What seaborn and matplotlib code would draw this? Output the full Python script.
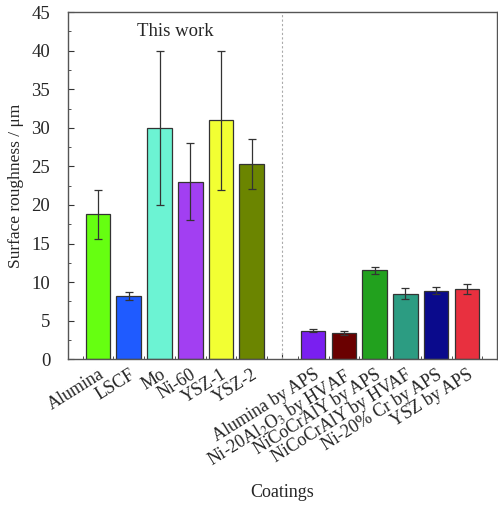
import numpy as np
import pandas as pd
import matplotlib
matplotlib.use("Agg")
import matplotlib.pyplot as plt
import seaborn as sns
from matplotlib.ticker import MultipleLocator

# Coatings from this work and from literature
this_work = ["Alumina", "LSCF", "Mo", "Ni-60", "YSZ-1", "YSZ-2"]
literature = ["Alumina by APS", r"Ni-20Al$_2$O$_3$ by HVAF", "NiCoCrAlY by APS",
              "NiCoCrAlY by HVAF", "Ni-20% Cr by APS", "YSZ by APS"]

this_work_ra = [18.8, 8.2, 30.0, 23.0, 31.0, 25.3]
this_work_err = [3.2, 0.5, 10.0, 5.0, 9.0, 3.2]
literature_ra = [3.7, 3.4, 11.5, 8.5, 8.9, 9.1]
literature_err = [0.2, 0.3, 0.5, 0.7, 0.4, 0.6]

this_work_colors = ["#66ff11", "#1f5bff", "#6cf3d3", "#a23ff2", "#f2ff33", "#6b8500"]
literature_colors = ["#7a1ff0", "#6a0000", "#22a11e", "#2c9c82", "#0a0a8c", "#e8303f"]

categories = this_work + literature
values = this_work_ra + literature_ra
errors = this_work_err + literature_err
colors = this_work_colors + literature_colors

gap = " "
order = this_work + [gap] + literature

df = pd.DataFrame({"coating": categories, "ra": values})

sns.set_style("ticks")
plt.rcParams["font.family"] = ["Liberation Serif", "DejaVu Serif"]
plt.rcParams["mathtext.fontset"] = "stix"

fig = plt.figure(figsize=(4.98, 5.08), dpi=100)
ax = fig.add_axes([0.137, 0.293, 0.861, 0.683])

sns.barplot(data=df, x="coating", y="ra", hue="coating", order=order,
            palette=dict(zip(categories, colors)), width=0.8, legend=False,
            edgecolor="#333333", linewidth=0.9, errorbar=None, saturation=1, ax=ax)

pos = [order.index(c) for c in categories]
ax.errorbar(pos, values, yerr=errors, fmt="none", ecolor="#333333",
            elinewidth=0.9, capsize=3, capthick=0.9, zorder=5)

ax.axvline(order.index(gap), color="#aaaaaa", linestyle=(0, (2, 2)), linewidth=0.8)

ax.set_xlim(-0.97, len(order) - 0.02)
ax.set_ylim(0, 45)
ax.yaxis.set_major_locator(MultipleLocator(5))
ax.yaxis.set_minor_locator(MultipleLocator(2.5))
ax.set_xticks(range(len(order)))
ax.xaxis.set_minor_locator(MultipleLocator(0.5))
ax.set_xticklabels(order, rotation=32, ha="right", rotation_mode="anchor", fontsize=13)
ax.tick_params(axis="both", which="both", direction="in", color="#333333")
ax.tick_params(axis="both", which="major", length=4.5, width=0.8)
ax.tick_params(axis="both", which="minor", length=2.5, width=0.6)
ax.tick_params(axis="x", pad=5)
ax.tick_params(axis="y", labelsize=13.5, pad=13)

for side in ["left", "bottom", "top", "right"]:
    ax.spines[side].set_visible(True)
    ax.spines[side].set_color("#555555")
    ax.spines[side].set_linewidth(1.0)

ax.set_ylabel("Surface roughness / μm", fontsize=12.5, labelpad=5)
ax.set_xlabel("Coatings", fontsize=13)
ax.xaxis.set_label_coords(0.5, -0.36)

ax.text(2.5, 42.5, "This work", ha="center", va="center", fontsize=13.5)

fig.savefig("out.png", dpi=100, facecolor="white")
